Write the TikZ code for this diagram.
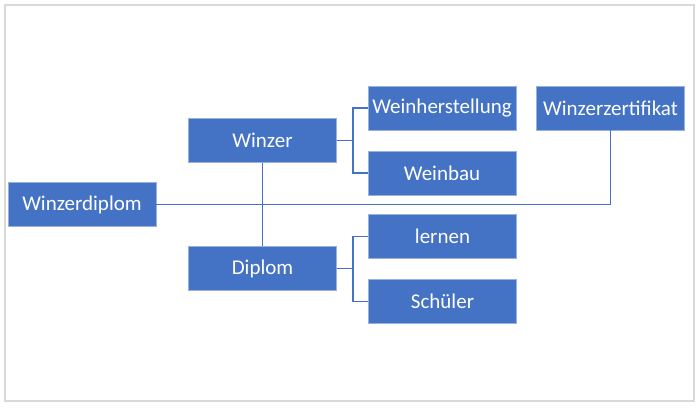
\documentclass[tikz,border=0pt]{standalone}
\usepackage{fontspec}
\setmainfont{Carlito}
\usetikzlibrary{positioning}
\definecolor{wineBlue}{HTML}{4472C4}
\definecolor{frameGray}{HTML}{D9D9D9}

\begin{document}
\begin{tikzpicture}[x=1pt, y=-1pt,
              wineBlock/.style={
                fill=wineBlue, draw=wineBlue!55!white, line width=0.6pt,
                text=white, inner sep=0pt, font=\fontsize{21}{25}\selectfont,
                minimum height=44pt, minimum width=148pt
             },
              wineLine/.style={draw=wineBlue, line width=1.4pt} ]
              \useasboundingbox (0,0) rectangle (700,410);
              \draw[frameGray, line width=1.6pt] (5,5) rectangle (694,401);
              \node[wineBlock] (dip) at (82,204.5) {Winzerdiplom};
              \node[wineBlock] (win) at (262.5,140.5) {Winzer};
              \node[wineBlock] (dpl) at (262.5,268.5) {Diplom};
              \node[wineBlock] (herst) at (442,108) {Weinherstellung};
              \node[wineBlock, below=20.5pt of herst] (bau) {Weinbau};
              \node[wineBlock] (zert) at (610.5,108) {Winzerzertifikat};
              \node[wineBlock] (lern) at (442.5,236.5) {lernen};
              \node[wineBlock, below=20.5pt of lern] (schue) {Schüler};
              % links
              \draw[wineLine, line width=1.8pt] (dip.east) -- (dip.east -| zert) -- (zert.south);
              \draw[wineLine] (win.south) -- (dpl.north);
              \coordinate[right=16pt of win.east] (winFork);
              \coordinate[right=16pt of dpl.east] (dplFork);
              \draw[wineLine] (win.east) -- (winFork) |- (herst.west);
              \draw[wineLine] (winFork) |- (bau.west);
              \draw[wineLine] (dpl.east) -- (dplFork) |- (lern.west);
              \draw[wineLine] (dplFork) |- (schue.west);
            \end{tikzpicture}
\end{document}
